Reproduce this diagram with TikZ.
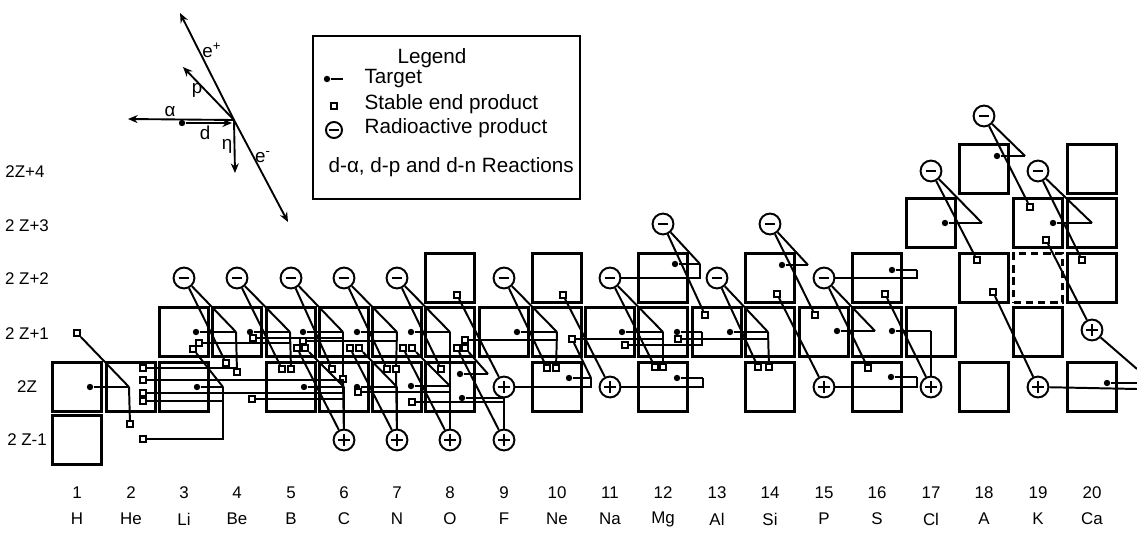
\documentclass[tikz,border=0pt]{standalone}
\usepackage{fontspec}
\setmainfont{Liberation Sans}
\usetikzlibrary{arrows.meta}

\begin{document}
\begin{tikzpicture}[
  x=0.018709cm,y=-0.018709cm,
  font=\fontsize{9}{11}\selectfont,
  cell/.style={draw,line width=1.15pt,minimum size=0.917cm,inner sep=0pt},
  gone/.style={cell,dash pattern=on 4pt off 2.5pt},
  beta/.style={circle,draw,fill=white,line width=1.05pt,
    minimum size=0.39cm,inner sep=0pt},
  minusring/.style={beta,path picture={\draw[line width=1.3pt]
      ([xshift=-0.1cm]path picture bounding box.center) --
      ([xshift=0.1cm]path picture bounding box.center);}},
  plusring/.style={beta,path picture={\draw[line width=1.3pt]
      ([xshift=-0.11cm]path picture bounding box.center) --
      ([xshift=0.11cm]path picture bounding box.center)
      ([yshift=-0.11cm]path picture bounding box.center) --
      ([yshift=0.11cm]path picture bounding box.center);}},
  prod/.style={draw,fill=white,line width=0.9pt,minimum size=0.12cm,inner sep=0pt},
  tgt/.style={circle,fill,minimum size=0.12cm,inner sep=0pt},
  rx/.style={line width=1.05pt},
  arr/.style={-{Stealth[length=1.8mm,width=1.5mm]},line width=1pt},
  legtext/.style={anchor=west,font=\fontsize{11}{13}\selectfont}
]
\useasboundingbox (0,0) rectangle (1137,535);

% nuclide cells
\foreach \n/\x/\y in {H1/77/440,H2/77/387,He4/131/387,Li6/184/387,Li7/184/332,
  Be9/237/332,B10/291/387,B11/291/332,C12/344/387,C13/344/332,N14/397/387,
  N15/397/332,O16/450/387,O17/450/332,O18/450/278,F19/504/332,Ne20/557/387,
  Ne21/557/332,Ne22/557/278,Na23/610/332,Mg24/663/387,Mg25/663/332,
  Mg26/663/278,Al27/717/332,Si28/770/387,Si29/770/332,Si30/770/278,
  P31/824/332,S32/877/387,S33/877/332,S34/877/278,Cl35/931/332,Cl37/931/223,
  A36/984/387,A38/984/278,A40/984/169,K39/1038/332,K41/1038/223,
  Ca40/1092/387,Ca42/1092/278,Ca43/1092/223,Ca44/1092/169}
  \node[cell] (\n) at (\x,\y) {};
\node[gone] (K40) at (1038,278) {};

% radioactive products
\foreach \n/\x/\y in {Li8/184/278,Be10/237/278,B12/291/278,C14/344/278,
  N16/397/278,F20/504/278,Na24/610/278,Al28/717/278,P32/824/278,
  Mg27/663/224,Si31/770/224,Cl38/931/171,K42/1038/171,A41/984/116}
  \node[minusring] (\n) at (\x,\y) {};
\foreach \n/\x/\y in {C11/344/440,N13/397/440,O15/450/440,F17/504/440,
  F18/504/387,Na22/610/387,P30/824/387,Cl34/931/387,K38/1038/387,Ca41/1092/330}
  \node[plusring] (\n) at (\x,\y) {};

% stable end products
\foreach \n/\x/\y in {sH3/77/333,sHe3/130/424,sHeA/143/368,sHeB/143/380,
  sHeC/143/393,sHeD/143/401,sHeE/143/439,sLi7a/193/349,sLi7b/199/343,
  sBe8a/237/372,sBe8b/226/363,sBe8c/252/399,sBe9/253/338,sB10a/282/369,
  sB10b/291/369,sB11a/305/348,sB11b/297/348,sB11c/303/341,sC12a/343/379,
  sC12b/332/369,sC12c/358/392,sC13a/359/348,sC13b/350/348,sN14a/396/369,
  sN14b/387/369,sN14c/412/402,sN15a/412/348,sN15b/403/348,sO16/441/369,
  sO17a/465/348,sO17b/457/348,sO17c/465/340,sO18/457/295,sNe20a/547/368,
  sNe20b/556/368,sNe21/572/339,sNe22/563/295,sNa23/625/345,sMg24a/655/367,
  sMg24b/663/367,sMg25/678/339,sAl27/705/315,sSi28a/758/367,sSi28b/769/367,
  sSi30/777/294,sP31/815/315,sS32/868/368,sS34/885/294,sA38a/977/260,
  sA38b/993/292,sK41a/1030/207,sK41b/1046/240,sCa42/1082/260}
  \node[prod] (\n) at (\x,\y) {};

% targets and reaction points
\foreach \n/\x/\y/\vx/\vy in {H2/90/387/129/387,Li6/197/387/223/387,
  Li7/196/332/236/332,Be9/250/332/290/332,B10/304/387/344/387,
  B11/303/332/343/332,C12/357/387/397/387,C13/357/332/397/332,
  N14/411/386/450/386,N15/411/332/450/332,O16a/460/374/488/374,
  O16b/462/398/504/398,F19/517/332/557/332,Ne20/569/378/591/378,
  Na23/622/332/663/332,Mg24/677/378/703/378,Mg25/677/332/702/332,
  Mg26/675/264/700/264,Al27/730/332/768/332,Si30/782/265/808/265,
  P31/837/331/875/331,S32/891/377/917/377,S33/892/331/931/331,
  S34/892/270/917/270,Cl37/945/223/982/223,A40/997/156/1025/156,
  K41/1053/223/1092/223}
  {
  \node[tgt] (t\n) at (\x,\y) {};
  \coordinate (v\n) at (\vx,\vy);
  \draw[rx] (t\n) -- (v\n);
  }
\node[tgt] (tCa40) at (1107,383) {};
\coordinate (edgeA) at (1137,383);
\coordinate (edgeB) at (1137,389);
\coordinate (edgeC) at (1137,369);
\draw[rx] (tCa40) -- (edgeA);

% d-p, d-n and d-alpha branches
\draw[rx] (vH2) -- (sH3);
\draw[rx] (vH2) -- (sHe3);
\draw[rx] (vLi6) -- (sLi7a);
\draw[rx] (vLi6) |- (sHeE);
\draw[rx] (vLi7) -- (Li8);
\draw[rx] (vLi7) -- (sBe8a);
\draw[rx] (vBe9) -- (Be10);
\draw[rx] (vBe9) -- (sB10b);
\draw[rx] (vBe9) |- (sLi7b);
\draw[rx] (vB10) -- (sB11a);
\draw[rx] (vB10) -- (C11);
\draw[rx] (sBe8c) -- (sBe8c -| vB10);
\draw[rx] (vB11) -- (B12);
\draw[rx] (vB11) -- (sC12a);
\draw[rx] (sC12a) -- (C11);
\draw[rx] (sBe9) -- (sBe9 -| vB11);
\draw[rx] (vC12) -- (sC13a);
\draw[rx] (vC12) -- (N13);
\draw[rx] (vC13) -- (C14);
\draw[rx] (vC13) -- (sN14a);
\draw[rx] (sN14a) -- (N13);
\draw[rx] (sB11c) -- (sB11c -| vC13);
\draw[rx] (vN14) -- (sN15a);
\draw[rx] (vN14) -- (O15);
\draw[rx] (sC12c) -- (sC12c -| vN14);
\draw[rx] (vN15) -- (N16);
\draw[rx] (vN15) -- (vN14);
\draw[rx] (vO16a) -- (sO17a);
\draw[rx] (vO16b) -- (F17);
\draw[rx] (sN14c) -- (sN14c -| vO16b);
\draw[rx] (vF19) -- (F20);
\draw[rx] (vF19) -- (sNe20b);
\draw[rx] (sO17c) -- (sO17c -| vF19);
\draw[rx] (vNe20) |- (F18);
\draw[rx] (vNe20) -- (sNe21);
\draw[rx] (vNa23) -- (Na24);
\draw[rx] (vNa23) -- (sMg24b);
\draw[rx] (sNe21) -- (sNe21 -| vNa23);
\draw[rx] (vMg24) |- (Na22);
\draw[rx] (vMg25) |- (sNa23);
\draw[rx] (vMg26) -- (Mg27);
\draw[rx] (vMg26) |- (Na24);
\draw[rx] (vAl27) -- (Al28);
\draw[rx] (vAl27) -- (sSi28b);
\draw[rx] (sMg25) -- (sMg25 -| vAl27);
\draw[rx] (vSi30) -- (Si31);
\draw[rx] (vP31) -- (P32);
\draw[rx] (vS32) |- (P30);
\draw[rx] (vS33) -- (Cl34);
\draw[rx] (vS34) |- (P32);
\draw[rx] (vCl37) -- (Cl38);
\draw[rx] (vA40) -- (A41);
\draw[rx] (vK41) -- (K42);
\draw[rx] (sHeA) -- (sHeA -| sBe8a);
\draw[rx] (sHeB) -- (sHeB -| vB10);
\draw[rx] (sHeC) -- (sHeC -| vB10);
\draw[rx] (sHeD) -- (sHeD -| vLi6);

% decays
\foreach \a/\b in {Li8/sBe8b,Be10/sB10a,B12/sC12b,C14/sN14b,N16/sO16,
  F20/sNe20a,Na24/sMg24a,Mg27/sAl27,Al28/sSi28a,Si31/sP31,P32/sS32,
  Cl38/sA38a,K42/sCa42,A41/sK41a,C11/sB11b,N13/sC13b,O15/sN15b,F17/sO17b,
  F18/sO18,Na22/sNe22,P30/sSi30,Cl34/sS34,K38/sA38b,Ca41/sK41b,
  K38/edgeB,Ca41/edgeC}
  \draw[rx] (\a) -- (\b);

% row and element labels
\node (row4) at (25,172) {2Z+4};
\node (row3) at (27,226) {2 Z+3};
\node (row2) at (27,279) {2 Z+2};
\node (row1) at (27,334) {2 Z+1};
\node (row0) at (27,387) {2Z};
\node (rowm) at (27,440) {2 Z-1};
\foreach \z/\x/\el in {1/77/H,2/131/He,3/184/Li,4/237/Be,5/291/B,6/344/C,
  7/397/N,8/450/O,9/504/F,10/557/Ne,11/610/Na,12/663/Mg,13/717/Al,14/770/Si,
  15/824/P,16/877/S,17/931/Cl,18/984/A,19/1038/K,20/1092/Ca}
  {
  \node (num\z) at (\x,493) {\z};
  \node (el\z) at (\x,519) {\el};
  }

% legend
\node[draw,line width=1.15pt,minimum width=4.99cm,minimum height=3.05cm]
  (legend) at (446.5,117.5) {};
\node[font=\fontsize{11}{13}\selectfont] (legtitle) at (432,58) {Legend};
\node[tgt] (legdot) at (327,79) {};
\coordinate (legtail) at (343,79);
\draw[rx] (legdot) -- (legtail);
\node[legtext] (legtarget) at (358,79) {Target};
\node[prod] (legsq) at (334,106) {};
\node[legtext] (legstable) at (358,104) {Stable end product};
\node[minusring,minimum size=0.3cm] (legneg) at (334,130) {};
\node[legtext] (legradio) at (358,128) {Radioactive product};
\node[legtext] (legreact) at (322,167) {d-α, d-p and d-n Reactions};

% reaction directions
\coordinate (hub) at (234,120);
\coordinate (toEp) at (180,13);
\coordinate (toP) at (183,67);
\coordinate (toA) at (128,119);
\coordinate (toN) at (235,173);
\coordinate (toEm) at (288,222);
\node[tgt] (dstart) at (182,123) {};
\coordinate (dend) at (232,123);
\draw[arr] (hub) -- (toEp);
\draw[arr] (hub) -- (toP);
\draw[arr] (hub) -- (toA);
\draw[arr] (hub) -- (toN);
\draw[arr] (hub) -- (toEm);
\draw[arr] (dstart) -- (dend);
\node[font=\fontsize{10}{12}\selectfont] (lblEp) at (212,50) {e\textsuperscript{+}};
\node[font=\fontsize{10}{12}\selectfont] (lblP) at (197,90) {p};
\node[font=\fontsize{10}{12}\selectfont] (lblA) at (170,112) {α};
\node[font=\fontsize{10}{12}\selectfont] (lblD) at (205,133) {d};
\node[font=\fontsize{10}{12}\selectfont] (lblN) at (227,146) {η};
\node[font=\fontsize{10}{12}\selectfont] (lblEm) at (263,157) {e\textsuperscript{-}};
\end{tikzpicture}
\end{document}
